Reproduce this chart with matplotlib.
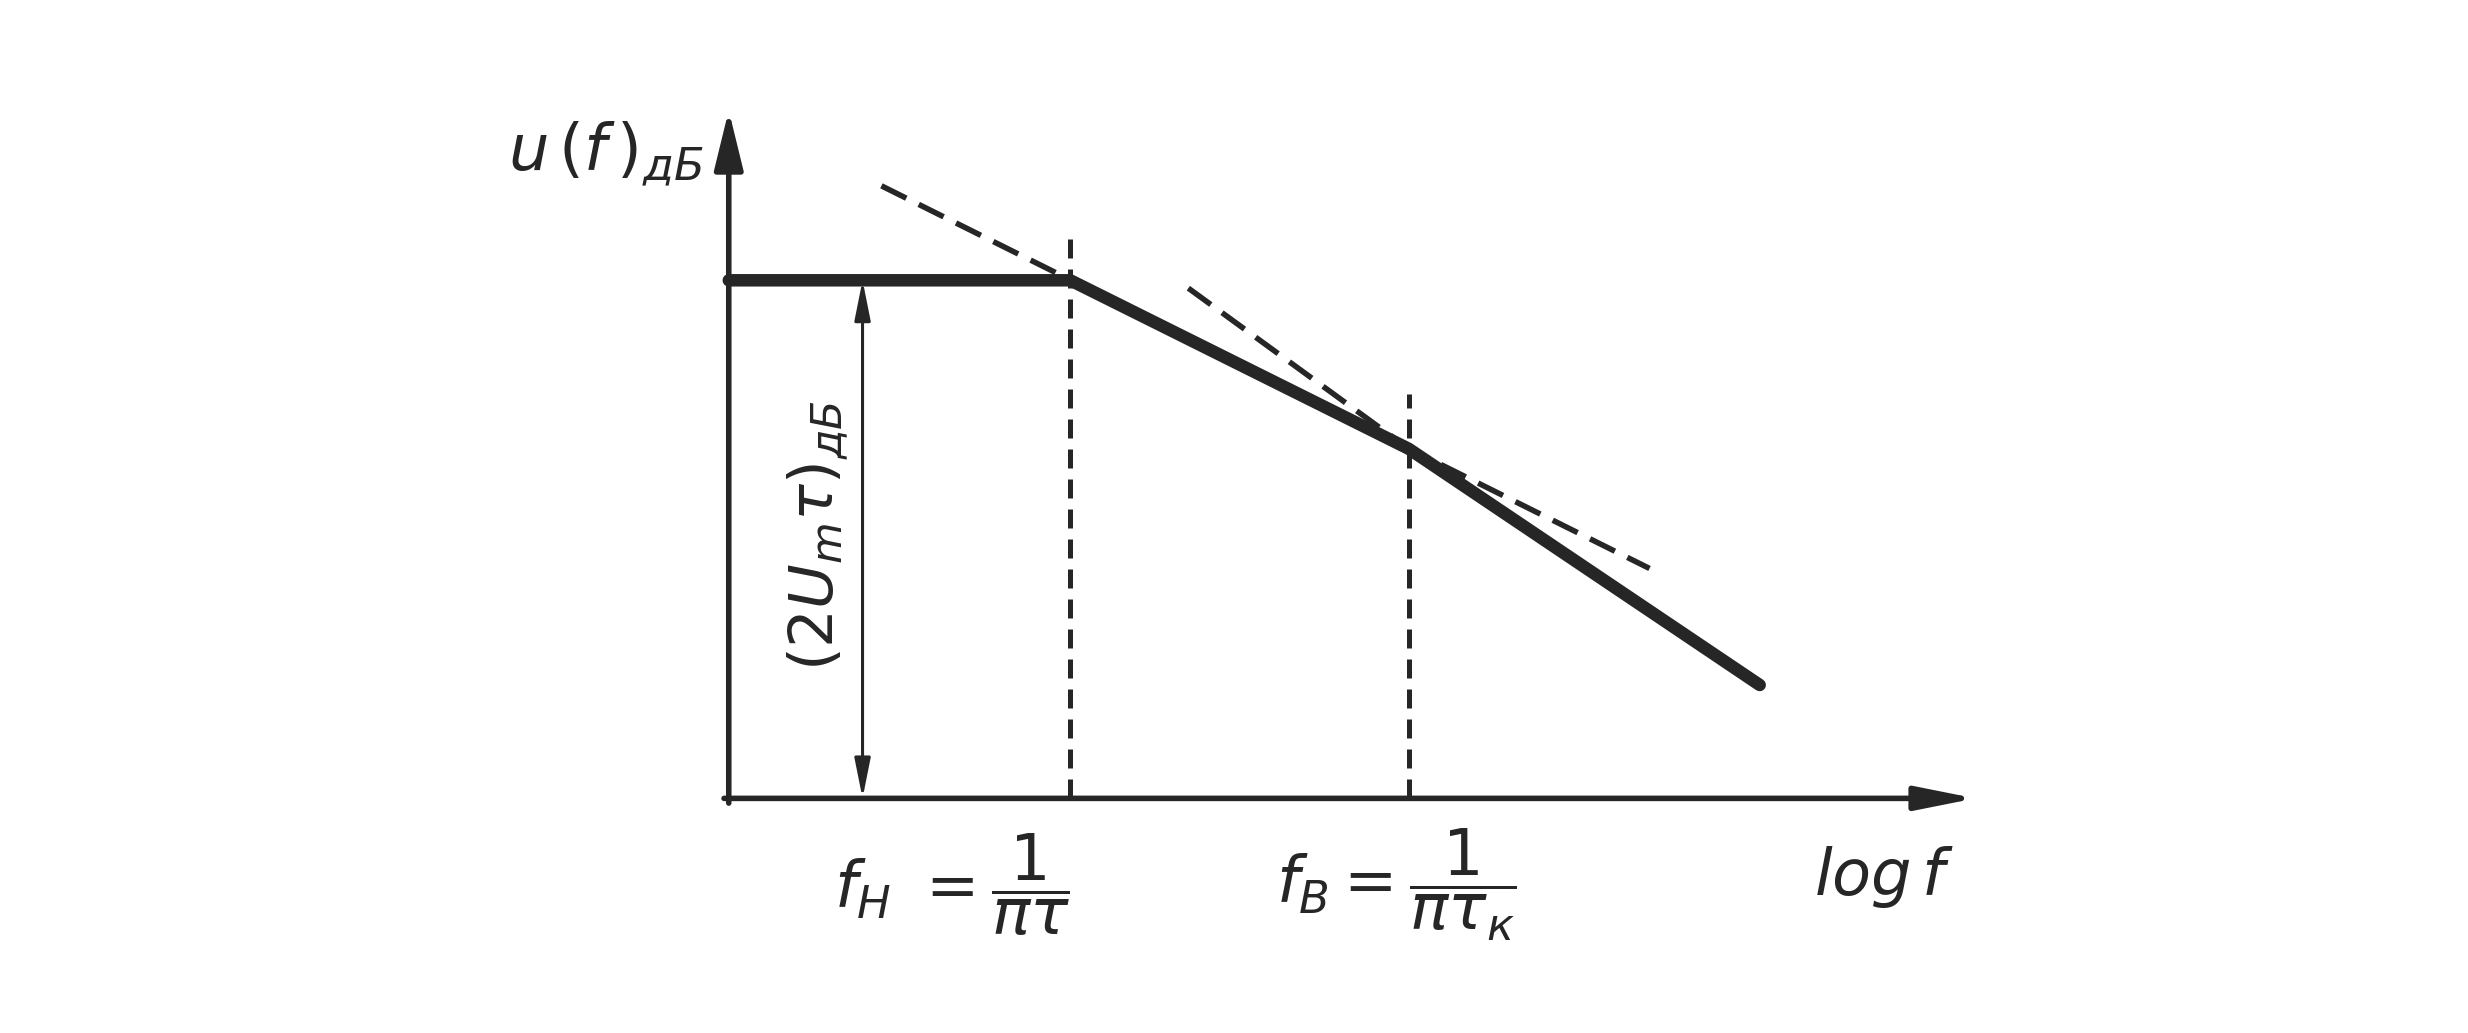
import matplotlib
matplotlib.use("Agg")
import matplotlib.pyplot as plt

plt.rcParams['mathtext.fontset'] = 'dejavusans'
plt.rcParams['font.family'] = ['DejaVu Sans']

# ---- data (log f units, dB units) ----
corner_x = [0.0, 2.17, 4.32, 6.55]        # piecewise asymptotic response
corner_y = [3.29, 3.29, 2.22, 0.72]
asym1_x = [0.97, 5.85]                    # extension of first slope
asym1_y = [3.89, 1.46]
asym2_x = [2.92, 4.32]                    # extension of second slope
asym2_y = [3.24, 2.22]
guide_x = [2.17, 4.32]                    # corner frequencies f_H, f_B
guide_top = [3.59, 2.57]
axis_x_max = 7.92
axis_y_max = 4.37
level_x = 0.85                            # dimension arrow position
level_y = 3.29

ink = '#262626'

fig = plt.figure(figsize=(24.68, 10.33), dpi=100)
ax = fig.add_axes([0, 0, 1, 1])
ax.set_xlim(-4.63, 11.05)
ax.set_ylim(-1.49, 5.07)
ax.axis('off')

# axes with arrows
ax.annotate('', xy=(0, axis_y_max), xytext=(0, -0.03),
            arrowprops=dict(arrowstyle='-|>,head_length=0.9,head_width=0.22',
                            lw=4, color=ink, mutation_scale=40,
                            shrinkA=0, shrinkB=0))
ax.annotate('', xy=(axis_x_max, 0), xytext=(-0.03, 0),
            arrowprops=dict(arrowstyle='-|>,head_length=0.9,head_width=0.18',
                            lw=4, color=ink, mutation_scale=40,
                            shrinkA=0, shrinkB=0))

# dashed asymptotes
ax.plot(asym1_x, asym1_y, color=ink, lw=4, dashes=(5, 2.5), zorder=2)
ax.plot(asym2_x, asym2_y, color=ink, lw=4, dashes=(5, 2.5), zorder=2)

# vertical guides
for gx, gt in zip(guide_x, guide_top):
    ax.plot([gx, gx], [0, gt], color=ink, lw=3.6, dashes=(3.8, 2.2), zorder=2)

# main response
ax.plot(corner_x, corner_y, color=ink, lw=9, solid_capstyle='round',
        solid_joinstyle='round', zorder=3)

# dimension arrow
ax.annotate('', xy=(level_x, level_y), xytext=(level_x, 0),
            arrowprops=dict(arrowstyle='<|-|>,head_length=1.1,head_width=0.22',
                            lw=2.2, color=ink, mutation_scale=22,
                            shrinkA=0, shrinkB=0))

fs = 46
ax.text(-1.40, 3.99, r'$u\,(f\,)_{дБ}$', fontsize=fs, color=ink,
        ha='left', va='baseline')
ax.text(0.57, 1.67, r'$(2U_m\tau)_{дБ}$', fontsize=44, color=ink,
        rotation=90, ha='center', va='center')
ax.text(1.42, -0.55, r'$f_{Н}\ =\dfrac{1}{\pi\tau}$', fontsize=fs,
        color=ink, ha='center', va='center')
ax.text(4.24, -0.55, r'$f_{В}=\dfrac{1}{\pi\tau_{к}}$', fontsize=fs,
        color=ink, ha='center', va='center')
ax.text(7.34, -0.50, r'$log\, f$', fontsize=fs, color=ink,
        ha='center', va='center')

fig.savefig('out.png', dpi=100, facecolor='white')
